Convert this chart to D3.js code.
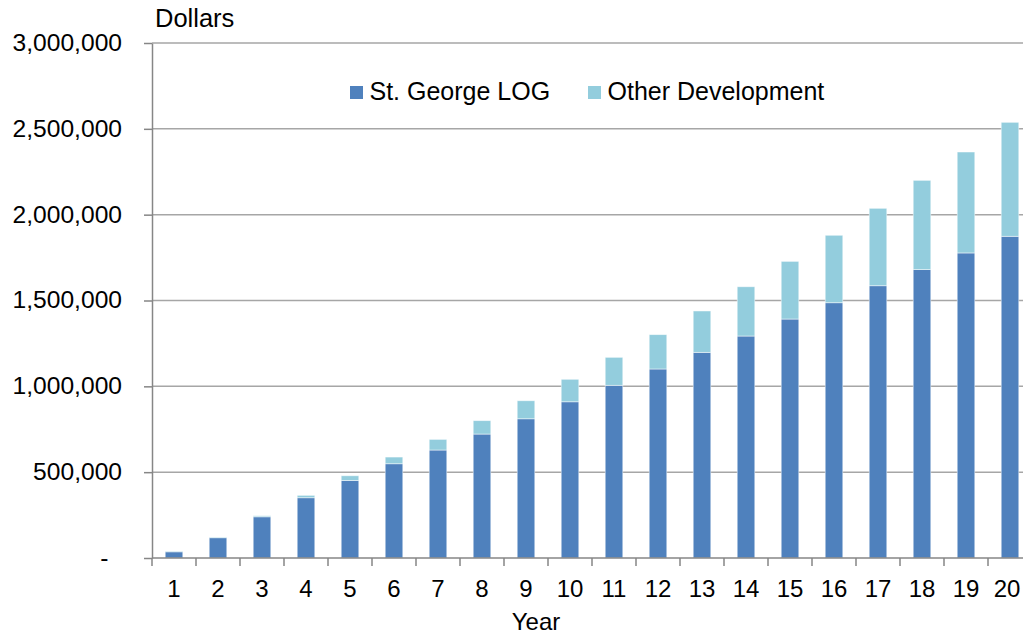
<!DOCTYPE html>
<html>
<head>
<meta charset="utf-8">
<script src="https://cdn.jsdelivr.net/npm/d3@7"></script>
<style>
  html, body { margin: 0; padding: 0; background: #fff; }
  svg { display: block; font-family: "Liberation Sans", Arial, sans-serif; }
</style>
</head>
<body>
<svg id="chart" width="1023" height="635"></svg>
<script>
const years = ["1","2","3","4","5","6","7","8","9","10","11","12","13","14","15","16","17","18","19","20"];
const stGeorgeLOG = [36000, 118000, 240000, 351000, 452000, 549000, 629000, 722000, 811000, 910000,
                     1006000, 1101000, 1198000, 1293000, 1392000, 1487000, 1586000, 1680000, 1777000, 1874000];
const otherDevelopment = [4000, 4000, 6000, 14000, 27000, 39000, 62000, 78000, 105000, 131000,
                          163000, 200000, 241000, 287000, 336000, 393000, 451000, 520000, 588000, 664000];
const yTicks = [0, 500000, 1000000, 1500000, 2000000, 2500000, 3000000];
const seriesNames = ["St. George LOG", "Other Development"];
const colors = ["#4F81BD", "#93CDDD"];

(function () {
const svg = d3.select("#chart");
const W = 1023;
const mLeft = 152, mRight = 1032, mTop = 43, mBottom = 558;

const x = d3.scaleBand().domain(years).range([mLeft, mRight]).paddingInner(0.6).paddingOuter(0.3);
const y = d3.scaleLinear().domain([0, 3000000]).range([mBottom, mTop]);

const table = years.map((yr, i) => ({ year: yr, a: stGeorgeLOG[i], b: otherDevelopment[i] }));
const stack = d3.stack().keys(["a", "b"])(table);

// gridlines
svg.append("g").selectAll("line").data(yTicks.filter(d => d > 0)).join("line")
  .attr("x1", mLeft).attr("x2", W)
  .attr("y1", d => y(d)).attr("y2", d => y(d))
  .attr("stroke", "#a6a6a6").attr("stroke-width", 1.5);

// bars
svg.append("g").selectAll("g").data(stack).join("g")
  .attr("fill", (d, i) => colors[i])
  .selectAll("rect").data(d => d).join("rect")
  .attr("x", d => x(d.data.year))
  .attr("width", x.bandwidth())
  .attr("y", d => y(d[1]))
  .attr("height", d => y(d[0]) - y(d[1]))
  .attr("stroke", "#ffffff").attr("stroke-opacity", 0.6).attr("stroke-width", 0.8);

// y axis
const yAxis = d3.axisLeft(y).tickValues(yTicks)
  .tickFormat(d => d === 0 ? "-" : d3.format(",")(d))
  .tickSizeInner(8).tickSizeOuter(0).tickPadding(22);
const gy = svg.append("g").attr("transform", `translate(${mLeft},0)`).call(yAxis);
gy.select(".domain").attr("stroke", "#868686").attr("stroke-width", 1.5);
gy.selectAll(".tick line").attr("stroke", "#868686").attr("stroke-width", 1.5);
gy.selectAll(".tick text").attr("font-size", 24.6).attr("fill", "#000")
  .attr("font-family", "Liberation Sans, Arial, sans-serif").attr("dy", "0.3em")
  .attr("dx", d => d === 0 ? -13.5 : 0);

// x axis
const xAxis = d3.axisBottom(x).tickSize(0).tickPadding(22);
const gx = svg.append("g").attr("transform", `translate(0,${mBottom})`).call(xAxis);
gx.select(".domain").remove();
gx.selectAll(".tick text").attr("font-size", 24).attr("fill", "#000")
  .attr("font-family", "Liberation Sans, Arial, sans-serif");
gx.selectAll(".tick text").filter(d => d === years[years.length - 1]).attr("dx", -3);
svg.append("line").attr("x1", mLeft).attr("x2", W).attr("y1", mBottom).attr("y2", mBottom)
  .attr("stroke", "#868686").attr("stroke-width", 1.5);
const step = x.step();
const boundaries = years.map(d => x(d) + x.bandwidth() / 2 - step / 2)
  .concat([x(years[years.length - 1]) + x.bandwidth() / 2 + step / 2]);
svg.append("g").selectAll("line").data(boundaries).join("line")
  .attr("x1", d => d).attr("x2", d => d)
  .attr("y1", mBottom).attr("y2", mBottom + 8)
  .attr("stroke", "#868686").attr("stroke-width", 1.5);

// titles
svg.append("text").attr("x", 155).attr("y", 27).attr("font-size", 25.5).text("Dollars");
svg.append("text").attr("x", 536).attr("y", 630).attr("text-anchor", "middle").attr("font-size", 24).text("Year");

// legend
const legendX = [350, 588];
const lg = svg.append("g").selectAll("g").data(seriesNames).join("g")
  .attr("transform", (d, i) => `translate(${legendX[i]},86)`);
lg.append("rect").attr("width", 13).attr("height", 13).attr("fill", (d, i) => colors[i]);
lg.append("text").attr("x", 19.5).attr("y", 13.5).attr("font-size", 25).text(d => d);
})();
</script>
</body>
</html>
